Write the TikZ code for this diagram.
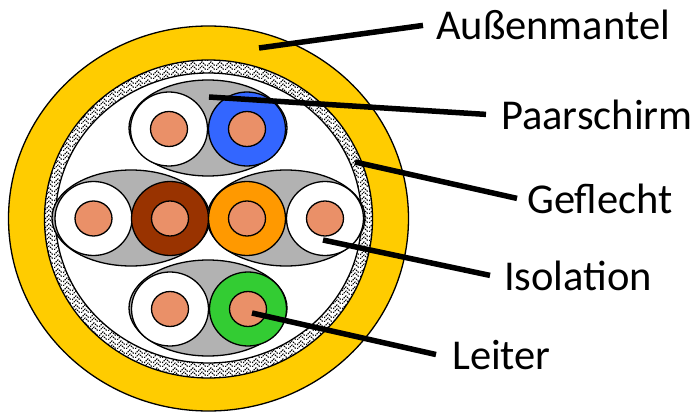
\documentclass[tikz,border=0pt]{standalone}
\usepackage{fontspec}
\setmainfont{Carlito}
\usepackage{tikz}
\usetikzlibrary{shapes.geometric,patterns}
\pgfdeclarepatternformonly{braid}{\pgfqpoint{0pt}{0pt}}{\pgfqpoint{9pt}{9pt}}{\pgfqpoint{9pt}{9pt}}{
  \pgfsetlinewidth{1.1pt}
  \pgfsetdash{{1.6pt}{1pt}}{0pt}
  \pgfpathmoveto{\pgfqpoint{0pt}{0pt}}
  \pgfpathlineto{\pgfqpoint{4.5pt}{4.5pt}}
  \pgfpathlineto{\pgfqpoint{9pt}{0pt}}
  \pgfpathmoveto{\pgfqpoint{0pt}{4.5pt}}
  \pgfpathlineto{\pgfqpoint{4.5pt}{9pt}}
  \pgfpathlineto{\pgfqpoint{9pt}{4.5pt}}
  \pgfusepath{stroke}
}
\definecolor{mantel}{RGB}{255,204,0}
\definecolor{pairgray}{RGB}{178,178,178}
\definecolor{copper}{RGB}{234,144,104}
\definecolor{wireblue}{RGB}{51,102,255}
\definecolor{wirebrown}{RGB}{153,51,0}
\definecolor{wireorange}{RGB}{255,153,0}
\definecolor{wiregreen}{RGB}{51,204,51}
\tikzset{
  ring/.style={ellipse,draw,line width=1.3pt,inner sep=0pt},
  pairshield/.style={ring,fill=pairgray,minimum width=158pt,minimum height=96pt},
  wire/.style={ring,minimum width=77pt,minimum height=74pt},
  core/.style={ring,fill=copper,minimum width=37pt,minimum height=35pt},
  leader/.style={line width=5.5pt},
  label/.style={font=\fontsize{42.5}{42.5}\selectfont,anchor=base west,inner ysep=0pt,inner xsep=14pt}
}

\begin{document}
\begin{tikzpicture}[x=1pt,y=-1pt]
\useasboundingbox (0,0) rectangle (694,412);
% cable layers
\node (mantel) [ring,fill=mantel,minimum width=400pt,minimum height=385pt] at (208.5,218.5) {};
\node (braid) [ring,preaction={fill=white},pattern=braid,minimum width=328pt,minimum height=318pt] at (208.5,219) {};
\node (inner) [ring,fill=white,minimum width=306pt,minimum height=290pt] at (208.5,218) {};
% pair shields
\node (p1) [pairshield] at (208,128) {};
\node (p2) [pairshield] at (131,218) {};
\node (p3) [pairshield] at (286,218) {};
\node (p4) [pairshield] at (208,308) {};
% wires
\node (w1) [wire,fill=white] at (169,129) {};
\node (w2) [wire,fill=wireblue] at (247,129) {};
\node (w3) [wire,fill=white] at (93.5,218.5) {};
\node (w4) [wire,fill=wirebrown] at (170,218.5) {};
\node (w5) [wire,fill=wireorange] at (247,218.5) {};
\node (w6) [wire,fill=white] at (325,218.5) {};
\node (w7) [wire,fill=white] at (170,309) {};
\node (w8) [wire,fill=wiregreen] at (248,309) {};
% conductors
\node (c1) [core] at (w1) {};
\node (c2) [core] at (w2) {};
\node (c3) [core] at (w3) {};
\node (c4) [core] at (w4) {};
\node (c5) [core] at (w5) {};
\node (c6) [core] at (w6) {};
\node (c7) [core] at (w7) {};
\node (c8) [core] at (w8) {};
% labels
\node (l1) [label,inner xsep=13pt] at (423,40) {Außenmantel};
\node (l2) [label,inner xsep=15pt] at (486,129) {Paarschirm};
\node (l3) [label,inner xsep=10pt] at (517,213) {Geflecht};
\node (l4) [label] at (490,290) {Isolation};
\node (l5) [label,inner xsep=16pt] at (436,369) {Leiter};
% leader ends
\coordinate (t1) at (259,48);
\coordinate (t2) at (209,97);
\coordinate (t3) at (355,162);
\coordinate (t4) at (323,240);
\coordinate (t5) at (252,313);
\draw [leader] (t1) edge (l1.west);
\draw [leader] (t2) edge (l2.west);
\draw [leader] (t3) edge (l3.west);
\draw [leader] (t4) edge (l4.west);
\draw [leader] (t5) edge (l5.west);
\end{tikzpicture}
\end{document}
